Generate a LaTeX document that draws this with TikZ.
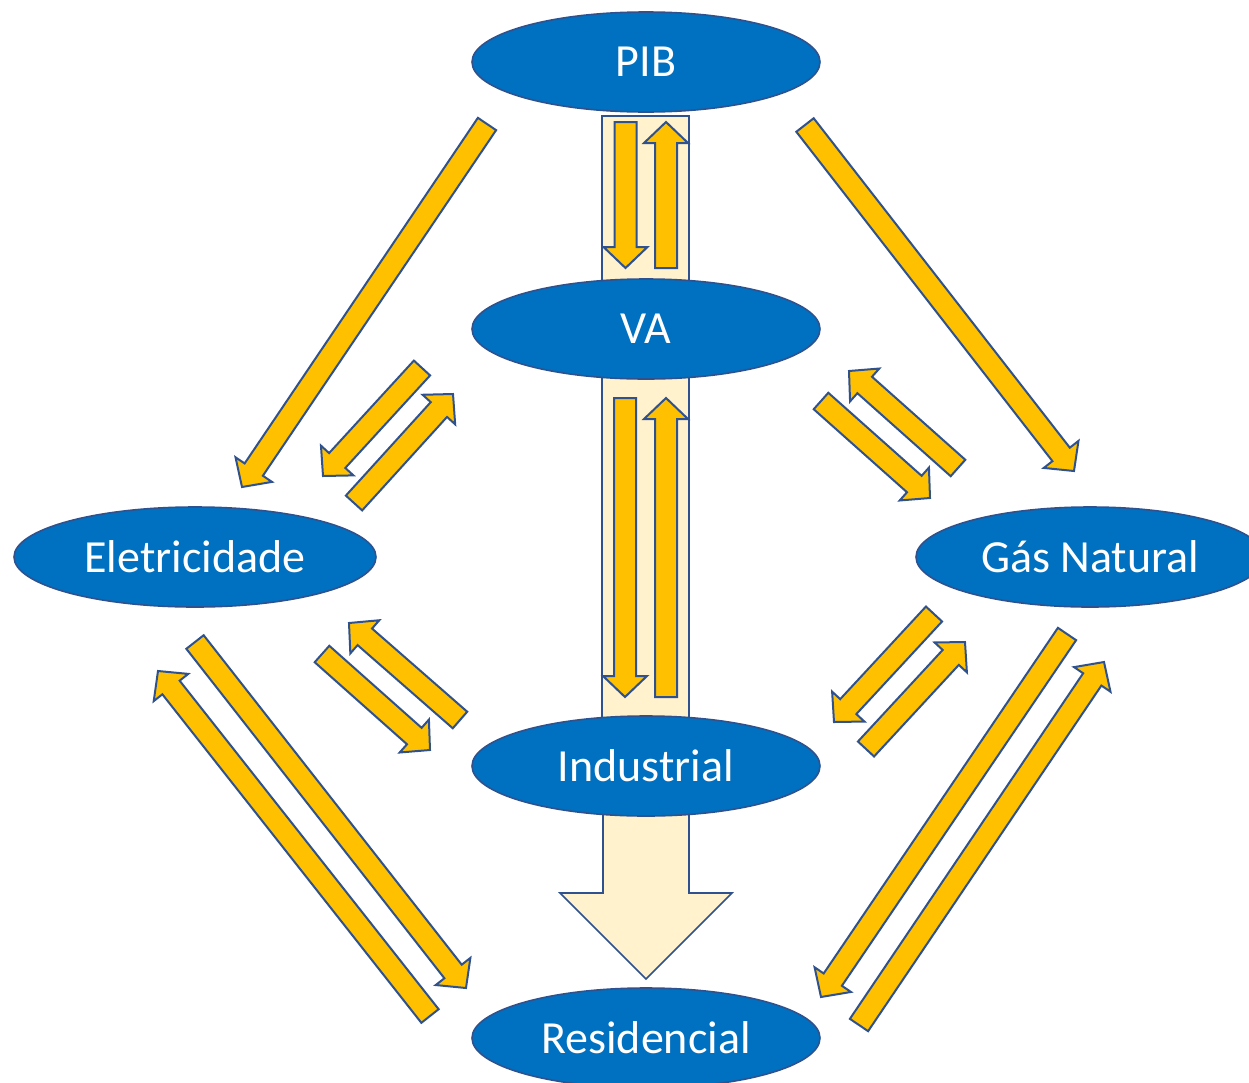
\documentclass[tikz,border=0pt]{standalone}
\usepackage{fontspec}
\setmainfont{Carlito}
\usetikzlibrary{shapes.geometric,calc}
\definecolor{azul}{HTML}{0070C0}
\definecolor{contorno}{HTML}{2F528F}
\definecolor{amarelo}{HTML}{FFC000}
\definecolor{creme}{HTML}{FFF2CC}

\begin{document}
\begin{tikzpicture}[x=0.75pt,y=-0.75pt]
\tikzset{vertex/.style = {shape=ellipse, draw=contorno, fill=azul, line width=1.2pt, minimum width=261pt, minimum height=75pt, inner sep=0pt, text=white, font=\fontsize{34.5}{40}\selectfont}}
\tikzset{edge/.style = {draw=contorno, fill=amarelo, line width=1.5pt, line join=miter}}
\tikzset{band/.style = {draw=contorno, fill=creme, line width=1.2pt}}
\def \sw {8.25pt}
\def \hw {16.5pt}
\def \hl {15.75pt}
\def \blockarrow#1#2{
  \coordinate (h) at ($(#2)!\hl!(#1)$);
  \draw[edge] ($(#1)!\sw!90:(#2)$) -- ($(h)!\sw!90:(#2)$) -- ($(h)!\hw!90:(#2)$) -- (#2)
    -- ($(h)!\hw!-90:(#2)$) -- ($(h)!\sw!-90:(#2)$) -- ($(#1)!\sw!-90:(#2)$) -- cycle;
}
\clip (0,0) rectangle (1249,1082);
% faixas
\draw[band] (602,116) rectangle (689,295);
\draw[band] (602,365) rectangle (689,730);
\draw[band] (603,800) -- (603,893) -- (560,893) -- (646,979) -- (732,893) -- (689,893) -- (689,800) -- cycle;
% elipses
\node[vertex](pib) at (646,62) {PIB};
\node[vertex](va) at (646,329) {VA};
\node[vertex, minimum width=271.5pt](ele) at (195,557) {Eletricidade};
\node[vertex](gas) at (1090,557) {Gás Natural};
\node[vertex](ind) at (646,766) {Industrial};
\node[vertex](res) at (646,1038) {Residencial};
% pontas
\coordinate (a1) at (487,124);   \coordinate (b1) at (242,487);
\coordinate (a2) at (805,125);   \coordinate (b2) at (1074,471);
\coordinate (a3) at (625.5,122); \coordinate (b3) at (625.5,268);
\coordinate (a4) at (666,268);   \coordinate (b4) at (666,122);
\coordinate (a5) at (422,368);   \coordinate (b5) at (323,476);
\coordinate (a6) at (354,503);   \coordinate (b6) at (453,394);
\coordinate (a7) at (821,401);   \coordinate (b7) at (930,498);
\coordinate (a8) at (958,468);   \coordinate (b8) at (849,371);
\coordinate (a9) at (625,398);   \coordinate (b9) at (625,697);
\coordinate (a10) at (666,697);  \coordinate (b10) at (666,398);
\coordinate (a11) at (460,720);  \coordinate (b11) at (349,623);
\coordinate (a12) at (322,654);  \coordinate (b12) at (430,750);
\coordinate (a13) at (934,614);  \coordinate (b13) at (834,722);
\coordinate (a14) at (866,749);  \coordinate (b14) at (965,642);
\coordinate (a15) at (195,642);  \coordinate (b15) at (466,988);
\coordinate (a16) at (430,1016); \coordinate (b16) at (158,671);
\coordinate (a17) at (1067,634); \coordinate (b17) at (821,997);
\coordinate (a18) at (859,1025); \coordinate (b18) at (1104,662);
% setas
\blockarrow{a1}{b1}
\blockarrow{a2}{b2}
\blockarrow{a3}{b3}
\blockarrow{a4}{b4}
\blockarrow{a5}{b5}
\blockarrow{a6}{b6}
\blockarrow{a7}{b7}
\blockarrow{a8}{b8}
\blockarrow{a9}{b9}
\blockarrow{a10}{b10}
\blockarrow{a11}{b11}
\blockarrow{a12}{b12}
\blockarrow{a13}{b13}
\blockarrow{a14}{b14}
\blockarrow{a15}{b15}
\blockarrow{a16}{b16}
\blockarrow{a17}{b17}
\blockarrow{a18}{b18}
\end{tikzpicture}
\end{document}
